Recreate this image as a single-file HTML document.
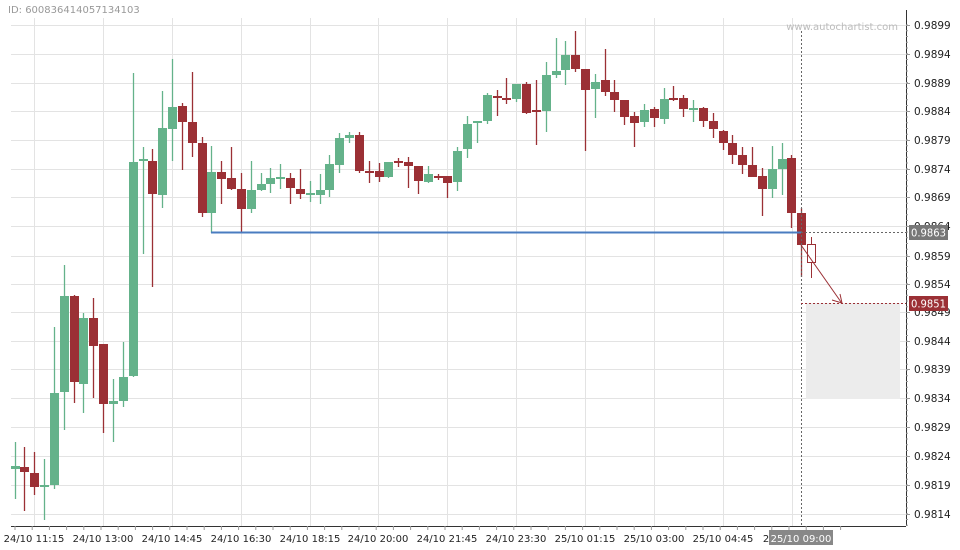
<!DOCTYPE html>
<html><head><meta charset="utf-8"><style>
body{margin:0;background:#fff;}
svg{display:block;font-family:"DejaVu Sans","Liberation Sans",sans-serif;}
</style></head><body>
<svg id="s" width="960" height="550" xmlns="http://www.w3.org/2000/svg">
<rect width="960" height="550" fill="#fff"/>
<g id="grid" stroke="#e3e3e3" stroke-width="1"></g>
<text x="8" y="13" font-size="10" fill="#999">ID: 600836414057134103</text>
<text x="898" y="30" font-size="10" fill="#bbb" text-anchor="end">www.autochartist.com</text>
<rect x="806" y="303" width="94" height="96" fill="#ececec"/>
<g id="c"></g>
<line x1="211" y1="232.5" x2="801" y2="232.5" stroke="#4a7cc0" stroke-width="2"/>
<line x1="801.5" y1="31" x2="801.5" y2="526" stroke="#666" stroke-dasharray="2,2"/>
<line x1="801" y1="232.5" x2="906" y2="232.5" stroke="#666" stroke-dasharray="2,2"/>
<line x1="801" y1="303.5" x2="906" y2="303.5" stroke="#9b3035" stroke-dasharray="2,2"/>
<line x1="801" y1="245" x2="841" y2="302" stroke="#9b3035" stroke-width="1"/>
<polyline points="832,300 842,303 840,294" fill="none" stroke="#9b3035"/>
<line x1="906.5" y1="10" x2="906.5" y2="526" stroke="#333"/>
<line x1="11" y1="526.5" x2="906" y2="526.5" stroke="#333"/>
<g id="ticks" stroke="#999"></g>
<g font-size="10.5" fill="#222">
<text x="914" y="29">0.9899</text><text x="914" y="58">0.9894</text><text x="914" y="87">0.9889</text><text x="914" y="115">0.9884</text><text x="914" y="144">0.9879</text><text x="914" y="173">0.9874</text><text x="914" y="201">0.9869</text><text x="914" y="230">0.9864</text><text x="914" y="260">0.9859</text><text x="914" y="288">0.9854</text><text x="914" y="316">0.9849</text><text x="914" y="345">0.9844</text><text x="914" y="373">0.9839</text><text x="914" y="402">0.9834</text><text x="914" y="431">0.9829</text><text x="914" y="460">0.9824</text><text x="914" y="489">0.9819</text><text x="914" y="518">0.9814</text>
</g>
<rect x="909" y="225" width="39" height="15" fill="#777"/>
<text x="911" y="236.5" font-size="10.5" fill="#fff" textLength="35" lengthAdjust="spacingAndGlyphs">0.9863</text>
<rect x="909" y="296" width="39" height="15" fill="#9b3035"/>
<text x="911" y="307.5" font-size="10.5" fill="#fff" textLength="35" lengthAdjust="spacingAndGlyphs">0.9851</text>
<g font-size="10" fill="#222" text-anchor="middle">
<text x="34" y="542">24/10 11:15</text><text x="103" y="542">24/10 13:00</text><text x="172" y="542">24/10 14:45</text><text x="241" y="542">24/10 16:30</text><text x="310" y="542">24/10 18:15</text><text x="378" y="542">24/10 20:00</text><text x="447" y="542">24/10 21:45</text><text x="516" y="542">24/10 23:30</text><text x="585" y="542">25/10 01:15</text><text x="654" y="542">25/10 03:00</text><text x="723" y="542">25/10 04:45</text><text x="766" y="542">2</text>
</g>
<rect x="769" y="530" width="64" height="15" fill="#888"/>
<text x="801" y="542" font-size="10" fill="#fff" text-anchor="middle">25/10 09:00</text>
</svg>
<script>
var NS="http://www.w3.org/2000/svg",g=document.getElementById('grid'),c=document.getElementById('c'),t=document.getElementById('ticks');
function el(p,tag,a){var e=document.createElementNS(NS,tag);for(var k in a)e.setAttribute(k,a[k]);p.appendChild(e);return e;}
var ys=[25,54,83,111,140,169,197,226,256,284,312,341,369,398,427,456,485,514];
ys.forEach(function(y){el(g,'line',{x1:11,x2:906,y1:y+.5,y2:y+.5});el(t,'line',{x1:906,x2:910,y1:y+.5,y2:y+.5});});
for(var y=25;y<526;y+=5.75)el(t,'line',{x1:906,x2:908,y1:y,y2:y});
[34,103,172,241,310,378,447,516,585,654,723,792].forEach(function(x){el(g,'line',{x1:x+.5,x2:x+.5,y1:18,y2:526});});
for(var x=15;x<850;x+=17.2)el(t,'line',{x1:x,x2:x,y1:526,y2:530});
var C=[[15,466,469,442,499,1],[24,467,472,447,511,0],[34,473,487,452,495,0],[44,485,487,459,520,1],[54,393,485,327,489,1],[64,296,392,265,430,1],[74,296,382,295,403,0],[83,318,384,313,413,1],[93,318,346,298,398,0],[103,344,404,344,433,0],[113,401,404,379,442,1],[123,377,401,342,407,1],[133,162,376,73,377,1],[143,159,161,147,254,1],[152,161,194,149,287,0],[162,128,195,91,208,1],[172,107,129,59,161,1],[182,106,122,103,170,0],[192,122,143,72,157,0],[202,143,213,137,217,0],[211,172,213,146,233,1],[221,172,179,161,204,0],[231,178,189,147,190,0],[241,189,209,173,233,0],[251,190,209,161,213,1],[261,184,190,173,191,1],[270,178,184,168,193,1],[280,177,178,164,189,1],[290,178,188,173,204,0],[300,189,194,169,199,0],[310,193,194,181,202,1],[320,190,195,174,204,1],[329,164,190,155,197,1],[339,138,165,133,173,1],[349,135,138,132,143,1],[359,135,171,132,173,0],[369,171,172,161,183,0],[379,171,177,163,182,0],[388,162,177,162,178,1],[398,161,162,158,167,0],[408,162,166,157,188,0],[418,166,181,166,194,0],[428,174,182,166,183,1],[438,176,177,174,180,0],[447,176,183,176,198,0],[457,151,182,147,191,1],[467,124,149,116,158,1],[477,121,123,121,143,1],[487,95,121,93,124,1],[497,96,98,90,116,0],[506,98,99,78,104,0],[516,84,99,84,102,1],[526,84,113,82,114,0],[536,110,111,80,145,0],[546,75,111,62,132,1],[556,71,75,38,78,1],[565,55,70,41,85,1],[575,55,69,31,72,0],[585,69,90,69,151,0],[595,82,89,74,118,1],[605,80,92,49,96,0],[614,92,100,80,112,0],[624,100,117,100,125,0],[634,116,123,112,147,0],[644,110,122,104,127,1],[654,109,118,107,127,0],[664,99,119,88,124,1],[673,98,99,86,101,0],[683,98,109,95,117,0],[693,108,109,100,122,1],[703,108,121,107,127,0],[713,121,129,113,138,0],[723,131,143,130,150,0],[732,143,155,135,164,0],[742,155,165,147,174,0],[752,165,177,147,177,0],[762,176,189,168,216,0],[772,169,189,146,198,1],[782,159,169,143,195,1],[791,158,213,155,228,0],[801,213,245,208,277,0]];
C.forEach(function(d){var col=d[5]?'#64b28a':'#9b3035';
el(c,'line',{x1:d[0]+.5,x2:d[0]+.5,y1:d[3],y2:d[4],stroke:col,'stroke-width':1.3});
el(c,'rect',{x:d[0]-4,y:d[1],width:9,height:Math.max(2,d[2]-d[1]),fill:col});});
el(c,'line',{x1:811.5,x2:811.5,y1:237,y2:278,stroke:'#9b3035'});
el(c,'rect',{x:807.5,y:244.5,width:8,height:18,fill:'#fff',stroke:'#9b3035'});
</script>
</body></html>
